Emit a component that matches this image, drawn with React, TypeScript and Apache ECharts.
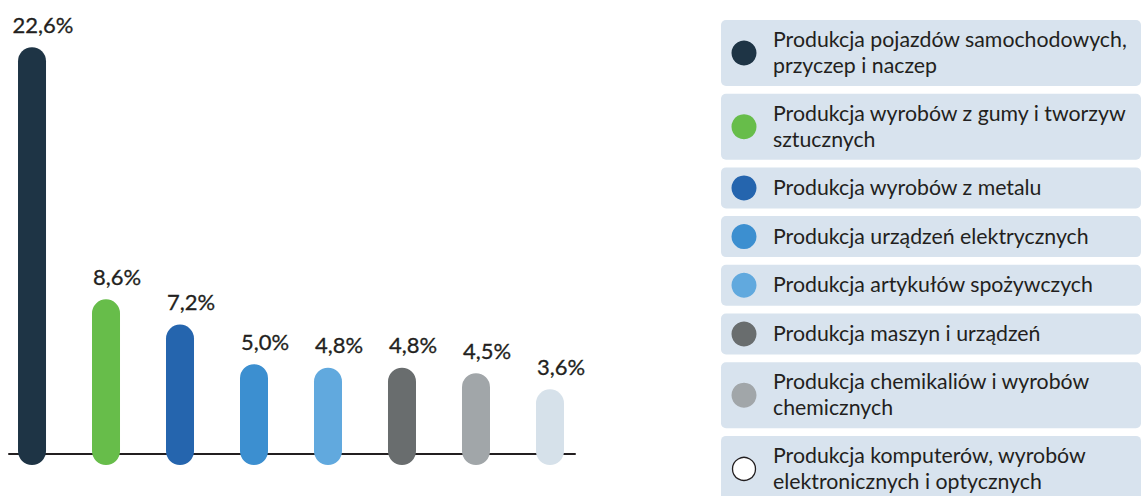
import React, { useEffect, useRef } from "react";
import * as echarts from "echarts";

const categories = [
  "Produkcja pojazdów samochodowych,\nprzyczep i naczep",
  "Produkcja wyrobów z gumy i tworzyw\nsztucznych",
  "Produkcja wyrobów z metalu",
  "Produkcja urządzeń elektrycznych",
  "Produkcja artykułów spożywczych",
  "Produkcja maszyn i urządzeń",
  "Produkcja chemikaliów i wyrobów\nchemicznych",
  "Produkcja komputerów, wyrobów\nelektronicznych i optycznych",
];
const values = [22.6, 8.6, 7.2, 5.0, 4.8, 4.8, 4.5, 3.6];
const barColors = [
  "#1e3445",
  "#67bd4a",
  "#2565ae",
  "#3c8fd0",
  "#61a9de",
  "#696d6e",
  "#a1a6a9",
  "#d6e1ea",
];

const TEXT = "#231f20";
const FONT = "Lato, 'Noto Sans', sans-serif";

function fmt(v: number) {
  return v.toFixed(1).replace(".", ",") + "%";
}

function buildLegend() {
  const children: any[] = [];
  let y = 20;
  const gap = 7.7;
  categories.forEach((name, i) => {
    const lines = name.split("\n").length;
    const h = lines > 1 ? 66 : 41;
    const last = i === categories.length - 1;
    children.push({
      type: "group",
      x: 721,
      y,
      children: [
        {
          type: "rect",
          shape: { x: 0, y: 0, width: 420, height: h, r: 5 },
          style: { fill: "#d8e3ee" },
        },
        {
          type: "circle",
          shape: { cx: 23, cy: h / 2, r: last ? 11.5 : 12.5 },
          style: last
            ? { fill: "#ffffff", stroke: TEXT, lineWidth: 1.3 }
            : { fill: barColors[i] },
        },
        {
          type: "text",
          x: 52,
          y: h / 2 - 1,
          style: {
            text: name,
            fill: TEXT,
            fontSize: 21.3,
            fontFamily: FONT,
            verticalAlign: "middle",
            textAlign: "left",
            lineHeight: 26,
          },
        },
      ],
    });
    y += h + gap;
  });
  return children;
}

export default function App() {
  const ref = useRef<HTMLDivElement>(null);
  useEffect(() => {
    if (!ref.current) return;
    const chart = echarts.init(ref.current, undefined, { renderer: "svg" });
    chart.setOption({
      animation: false,
      grid: { left: 9, right: 567, top: 4, bottom: 31, containLabel: false },
      xAxis: {
        type: "value",
        min: -0.311,
        max: 7.338,
        axisLine: { show: true, onZero: true, lineStyle: { color: TEXT, width: 2 } },
        axisTick: { show: false },
        axisLabel: { show: false },
        splitLine: { show: false },
      },
      yAxis: {
        type: "value",
        min: -0.6,
        max: 25,
        startValue: -0.6,
        axisLine: { show: false },
        axisTick: { show: false },
        axisLabel: { show: false },
        splitLine: { show: false },
      },
      series: [
        {
          type: "bar",
          barWidth: 28,
          z: 1,
          data: values.map((v, i) => ({
            value: [i, v],
            itemStyle: { color: barColors[i], borderRadius: 14 },
          })),
          label: {
            show: true,
            position: "top",
            distance: 12,
            offset: [11, 0],
            color: TEXT,
            fontSize: 22,
            fontWeight: 400,
            fontFamily: FONT,
            textBorderColor: TEXT,
            textBorderWidth: 0.3,
            formatter: (p: any) => fmt(p.value[1]),
          },
        },
      ],
      graphic: buildLegend(),
    });
    return () => chart.dispose();
  }, []);
  return (
    <div
      ref={ref}
      style={{ position: "absolute", left: 0, top: 0, width: 1142, height: 496 }}
    />
  );
}
